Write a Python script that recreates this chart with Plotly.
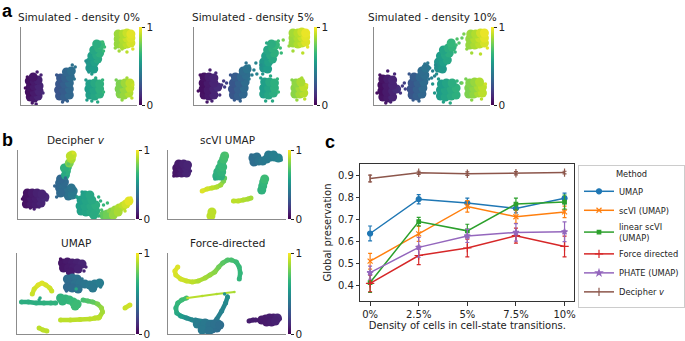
import plotly.graph_objects as go
from plotly.colors import sample_colorscale

FONT = 'DejaVu Sans'
W, H = 685, 341

# ---------------- panel c data ----------------
DENSITY = ['0%', '2.5%', '5%', '7.5%', '10%']
METHODS = ['UMAP', 'scVI (UMAP)', 'linear scVI<br>(UMAP)', 'Force directed', 'PHATE (UMAP)', 'Decipher <i>v</i>']
UMAP_MEAN = [0.637, 0.793, 0.776, 0.751, 0.797]
UMAP_ERR = [0.034, 0.021, 0.022, 0.020, 0.024]
SCVI_MEAN = [0.511, 0.635, 0.760, 0.713, 0.735]
SCVI_ERR = [0.036, 0.034, 0.026, 0.030, 0.026]
LINEAR_MEAN = [0.414, 0.691, 0.649, 0.771, 0.780]
LINEAR_ERR = [0.045, 0.019, 0.030, 0.027, 0.032]
FORCE_MEAN = [0.410, 0.537, 0.571, 0.627, 0.578]
FORCE_ERR = [0.038, 0.042, 0.040, 0.034, 0.047]
PHATE_MEAN = [0.459, 0.574, 0.626, 0.642, 0.645]
PHATE_ERR = [0.030, 0.045, 0.030, 0.040, 0.045]
DECIPHER_MEAN = [0.887, 0.913, 0.909, 0.911, 0.914]
DECIPHER_ERR = [0.015, 0.007, 0.008, 0.007, 0.006]
Y_TICKS = [0.4, 0.5, 0.6, 0.7, 0.8, 0.9]

# ---------------- embedding panels (x, y, colour value) ----------------
A1_BLOB = [(9,8,.05),(13,7,.07),(17,9,.1),(8,13,.04),(13,13,.07),(18,14,.1),(9,18,.05),(13,19,.07),(18,19,.1),(8,24,.04),(13,24,.07),(17,25,.09),(12,28,.06),
           (39,9,.27),(44,8,.3),(49,10,.33),(38,15,.26),(43,15,.29),(49,16,.33),(39,21,.27),(44,21,.3),(49,22,.34),(40,27,.28),(45,27,.31),(50,28,.35),(46,33,.33),(51,34,.36),
           (70,37,.52),(74,36,.55),(70,43,.53),(75,43,.57),(78,46,.6),(72,49,.56),(77,50,.6),(80,52,.63),(74,55,.59),(79,57,.63),(81,60,.66),(77,61,.62),
           (70,10,.56),(75,9,.59),(80,11,.62),(69,16,.55),(74,15,.58),(80,16,.63),(70,21,.56),(75,22,.6),(80,21,.63),
           (99,61,.84),(104,60,.87),(108,61,.9),(112,62,.94),(99,66,.84),(104,66,.88),(108,67,.92),(112,67,.95),(99,71,.85),(104,71,.88),(108,72,.92),(112,71,.96),
           (101,11,.81),(105,10,.84),(110,12,.88),(100,16,.8),(105,16,.84),(111,17,.9),(101,21,.8),(106,22,.85),(111,22,.9)]
A1_DOTS = [(16,33,.08),(11,2,.06),(15,1,.08),(4,17,.03),(22,12,.12),(20,30,.1),(6,28,.04),
           (52,40,.37),(42,3,.29),(47,4,.31),(36,30,.27),(54,26,.38),(55,38,.38),
           (72,31,.54),(69,33,.52),(83,63,.68),(66,44,.5),(84,54,.67),(85,58,.68),
           (72,4,.58),(78,3,.6),(66,25,.54),(83,25,.65),(84,13,.66),(76,27,.6),(67,5,.55),
           (100,54,.86),(108,53,.9),(96,57,.83),(114,56,.95),(103,56,.87),
           (103,5,.83),(113,7,.9),(97,25,.79),(108,27,.86),(114,20,.92)]

A2_BLOB = [(10,10,.05),(15,9,.07),(20,10,.1),(9,16,.04),(14,15,.07),(20,16,.1),(24,18,.12),(9,22,.04),(14,22,.07),(20,22,.1),(10,28,.05),(15,28,.08),(20,27,.1),
           (40,10,.27),(45,9,.3),(50,11,.33),(39,16,.26),(45,16,.3),(51,17,.34),(40,22,.27),(46,22,.31),(52,23,.35),(42,28,.29),(48,28,.33),(53,30,.36),(50,34,.35),(54,36,.38),
           (71,37,.52),(75,36,.55),(71,43,.53),(76,43,.57),(80,46,.6),(73,49,.56),(78,50,.6),(82,52,.63),(75,55,.59),(80,57,.63),(83,60,.66),(79,61,.62),
           (71,11,.56),(76,10,.59),(81,12,.62),(71,17,.55),(76,17,.58),(82,17,.63),(72,23,.56),(77,23,.6),(82,22,.63),
           (101,62,.85),(106,61,.88),(110,62,.91),(114,63,.95),(101,67,.85),(106,67,.88),(110,68,.92),(114,68,.96),(101,72,.86),(106,72,.89),(110,73,.93),(114,72,.97),
           (103,11,.82),(108,11,.86),(112,12,.89),(103,17,.82),(108,17,.86),(112,18,.9),(104,22,.83),(109,23,.87)]
A2_DOTS = [(13,3,.06),(18,4,.09),(6,30,.04),(16,35,.08),(22,32,.11),(4,14,.03),(26,10,.13),
           (28,20,.15),(31,18,.18),(33,22,.2),(30,24,.17),
           (41,5,.28),(47,4,.31),(37,30,.27),(56,26,.38),
           (53,42,.38),(56,39,.4),(61,35,.43),(63,42,.45),(64,31,.45),(59,30,.42),
           (70,31,.52),(68,40,.5),(86,64,.68),(88,57,.68),(89,52,.67),(74,62,.6),
           (73,4,.58),(80,4,.6),(68,27,.54),(85,26,.65),(86,13,.66),(78,29,.6),
           (101,54,.86),(111,52,.9),(91,65,.8),(97,59,.84),(116,58,.96),
           (105,5,.84),(113,6,.9),(100,25,.81),(110,27,.87),(115,20,.93)]

A3_BLOB = [(9,8,.05),(14,7,.07),(19,8,.1),(8,14,.04),(13,13,.07),(19,14,.1),(23,16,.12),(8,20,.04),(13,20,.07),(19,20,.1),(9,26,.05),(14,26,.08),(19,25,.1),
           (39,10,.27),(44,9,.3),(49,11,.33),(38,16,.26),(44,16,.3),(50,17,.34),(39,22,.27),(45,22,.31),(51,23,.35),(41,28,.29),(47,28,.33),(52,30,.36),(49,34,.35),(53,37,.38),
           (66,37,.5),(70,36,.53),(66,43,.52),(71,43,.56),(75,45,.59),(68,49,.55),(73,50,.59),(77,52,.62),(71,55,.58),(76,57,.62),(80,58,.65),(79,62,.66),
           (68,9,.55),(73,8,.58),(79,9,.61),(84,10,.63),(68,15,.55),(73,15,.58),(79,16,.61),(84,17,.64),(69,21,.55),(74,22,.58),(80,22,.62),
           (98,60,.84),(103,60,.87),(108,61,.9),(113,62,.94),(98,66,.84),(103,66,.88),(108,67,.92),(113,67,.96),(99,71,.85),(104,71,.88),(109,72,.93),(113,72,.97),
           (97,11,.8),(102,11,.83),(107,12,.87),(111,12,.9),(97,17,.8),(102,17,.83),(107,18,.87),(111,18,.9),(98,22,.81),(103,23,.84),(108,23,.88)]
A3_DOTS = [(12,2,.06),(17,3,.09),(6,30,.04),(14,34,.08),(21,31,.11),(3,12,.03),
           (26,16,.14),(29,19,.17),(32,16,.2),(27,12,.15),(31,22,.19),
           (40,5,.28),(46,4,.31),(36,31,.27),(56,26,.38),
           (52,41,.38),(55,42,.4),(57,37,.41),(60,34,.43),(62,29,.45),(59,27,.43),
           (64,31,.49),(63,40,.48),(83,53,.66),(84,60,.68),
           (87,62,.72),(90,67,.76),(92,71,.8),(85,66,.72),
           (71,3,.57),(78,2,.6),(66,26,.54),(85,24,.65),(60,21,.52),(62,12,.53),(89,22,.68),
           (100,52,.86),(109,51,.9),(95,56,.83),(116,57,.96),
           (100,5,.82),(110,6,.89),(90,22,.78),(94,26,.79),(114,21,.93)]

B1_BLOB = [(9,15,.05),(14,15,.07),(19,15,.08),(24,16,.1),(9,21,.05),(14,21,.07),(19,21,.08),(24,21,.1),(28,22,.11),(10,26,.05),(15,26,.07),(20,26,.09),(25,25,.1),
           (43,36,.33),(43,31,.33),(47,32,.35),(47,27,.35),(51,27,.37),(52,23,.37),(56,24,.4),(57,28,.4),(55,31,.38),(44,26,.34),(48,37,.34),(44,40,.33),
           (49,44,.6),(50,48,.63),(51,52,.66),(48,51,.63),
           (53,56,.8),(55,60,.87),(56,64,.92),(54,63,.9),
           (65,8,.57),(70,7,.58),(75,7,.6),(80,8,.62),(64,13,.56),(69,13,.58),(75,13,.6),(80,14,.62),(65,19,.56),(70,19,.58),(76,19,.6),(69,24,.57),(74,24,.59),(78,4,.61),
           (88,4,.75),(92,5,.78),(96,7,.82),(100,9,.85),(104,11,.88),(108,13,.9),(111,15,.93),(114,18,.96),(92,2,.78),(98,4,.84),(103,7,.87)]
B1_DOTS = [(13,11,.06),(17,10,.08),(5,20,.04),(30,19,.11),(22,12,.09),
           (60,22,.42),(40,22,.33),(38,33,.32),(49,41,.35),
           (52,55,.75),(57,66,.94),(48,46,.6),
           (61,22,.55),(66,27,.55),(83,22,.63),(85,18,.64),(88,14,.66),(92,16,.68),(83,3,.64),
           (116,21,.97),(86,9,.72),(110,8,.9)]

B2_BLOB = [(9,46,.06),(14,46,.08),(19,46,.1),(9,51,.06),(14,51,.08),(19,51,.1),(11,55,.07),(16,55,.09),(20,54,.1),
           (50,43,.62),(54,43,.63),(51,47,.63),(55,47,.65),(53,51,.65),(56,52,.67),(55,56,.67),(57,60,.69),(58,63,.7),
           (87,61,.36),(91,62,.37),(88,57,.36),(93,58,.38),(97,58,.4),(101,60,.41),(105,62,.42),(109,62,.43),(113,61,.45),(103,64,.41),(108,64,.43),
           (96,29,.64),(97,33,.65),(98,37,.66),(99,40,.68),
           (44,3,.9),(45,7,.9)]
B2_DOTS = [(6,43,.05),(23,48,.1),(48,40,.6),(60,65,.72),(116,59,.46),(85,64,.35),(95,27,.64)]
B2_PATHS = [[(35,28,.95),(40,30,.93),(45,31,.9),(50,32,.88),(54,34,.85),(57,38,.8),(58,41,.75)],
            [(67,18,.9),(72,18,.9),(77,19,.88),(82,20,.87),(85,21,.86)]]

B3_BLOB = [(47,71,.06),(52,72,.07),(57,71,.08),(62,71,.09),(67,70,.1),(48,66,.06),(53,66,.07),(58,66,.08),(63,65,.09),(55,62,.07),
           (52,55,.35),(57,56,.36),(62,55,.37),(55,51,.35),(60,50,.37),(65,51,.38),(52,47,.34),(57,46,.35),(70,50,.39),(75,49,.4),(80,50,.41),(85,51,.42),(78,46,.4),(63,45,.37),
           (45,36,.64),(50,35,.65),(54,34,.66),(58,32,.67),(62,30,.68),(47,33,.65),(60,28,.68)]
B3_DOTS = [(69,63,.1),(71,67,.1),(45,75,.05),(51,43,.34),(86,47,.42),(67,55,.38),(61,45,.6),(23,34,.6),(24,36,.6)]
B3_PATHS = [[(16,40,.92),(18,45,.93),(22,49,.95),(26,51,.95),(30,49,.94),(34,46,.93),(36,43,.92)],
            [(5,32,.62),(12,32,.62),(20,31,.62),(28,31,.63),(35,31,.64),(40,31,.64)],
            [(68,34,.7),(73,33,.72),(78,32,.75),(83,30,.8),(87,26,.84),(88,22,.86),(85,17,.88),(80,16,.9)],
            [(45,14,.9),(55,14,.9),(65,14.5,.9),(75,15,.9),(84,16,.9)],
            [(111,26,.92),(116,29,.93)],
            [(23,6,.9),(27,4,.9),(31,3,.9)]]

B4_BLOB = [(30,10,.42),(35,8,.4),(40,6,.38),(45,5,.36),(50,6,.36),(38,11,.4),(43,9,.38),(48,10,.37),(53,9,.36),(35,4,.4),(42,3,.38),
           (96,14,.07),(100,15,.07),(104,16,.08),(108,16,.08),(112,16,.1),(101,12,.07),(106,12,.08),(110,13,.09)]
B4_DOTS = [(61,38,.5),(58,40,.52),(115,15,.1),(93,13,.07)]
B4_PATHS = [[(10,67,.95),(7,63,.95),(8,59,.94),(13,55,.93),(19,53,.92),(25,52,.9),(31,53,.88),(38,56,.86),(43,59,.84),(48,62,.82),(52,67,.78),(56,71,.74),(61,74,.72),(65,74,.7),(70,72,.68),(73,67,.67),(74,61,.66),(73,55,.65)],
            [(19,36,.7),(14,34,.68),(10,31,.66),(8,26,.64),(9,21,.6),(13,18,.55),(19,16,.5),(25,14,.46),(30,12,.43)],
            [(45,8,.4),(50,15,.42),(55,23,.45),(59,31,.47),(61,37,.5)],
            [(28,14,.45),(40,12,.42),(52,12,.4)],
            [(83,13,.08),(87,14,.08),(90,14,.08)]]
B4_THIN = [[(20,36,.9),(35,38,.89),(50,40,.88),(68,42,.87)]]

# ---------------- layout (pixel boxes) ----------------
EMBED = [
    # title, (x0, x1, y0, y1), colorbar x0, blob, dots, paths, thin paths
    ('Simulated - density 0%', (22, 140, 27, 105), 142, A1_BLOB, A1_DOTS, [], []),
    ('Simulated - density 5%', (199, 320, 27, 105), 322, A2_BLOB, A2_DOTS, [], []),
    ('Simulated - density 10%', (383, 502, 27, 105), 503, A3_BLOB, A3_DOTS, [], []),
    ('Decipher <i>v</i>', (18, 138, 150, 219), 139, B1_BLOB, B1_DOTS, [], []),
    ('scVI UMAP', (172, 293, 150, 219), 295, B2_BLOB, B2_DOTS, B2_PATHS, []),
    ('UMAP', (17, 138, 253, 334), 139, B3_BLOB, B3_DOTS, B3_PATHS, []),
    ('Force-directed', (172, 293, 253, 334), 295, B4_BLOB, B4_DOTS, B4_PATHS, B4_THIN),
]
SPINE = '#8c8c8c'
TXT = '#222222'

fig = go.Figure()
lay = {}
annotations = []

for i, (title, box, cbx, blob, dots, paths, thin) in enumerate(EMBED):
    n = i + 1
    sfx = '' if n == 1 else str(n)
    xa, ya, ca = 'x' + sfx, 'y' + sfx, 'coloraxis' + sfx
    x0, x1, y0, y1 = box
    lay['xaxis' + sfx] = dict(domain=[x0 / W, x1 / W], range=[0, x1 - x0], anchor=ya,
                              showline=True, linecolor=SPINE, linewidth=1.3, showgrid=False,
                              zeroline=False, showticklabels=False, ticks='', automargin=False)
    lay['yaxis' + sfx] = dict(domain=[1 - y1 / H, 1 - y0 / H], range=[0, y1 - y0], anchor=xa,
                              showline=True, linecolor=SPINE, linewidth=1.3, showgrid=False,
                              zeroline=False, showticklabels=False, ticks='', automargin=False)
    lay[ca] = dict(colorscale='Viridis', cmin=0, cmax=1,
                   colorbar=dict(x=cbx / W, xanchor='left', y=1 - (y0 + y1) / 2 / H, yanchor='middle',
                                 len=(y1 - y0) / H, lenmode='fraction', thickness=3, thicknessmode='pixels',
                                 outlinewidth=0, tickvals=[0, 1], ticktext=['0', '1'], ticks='outside',
                                 ticklen=3, tickwidth=1, tickcolor=TXT, xpad=0, ypad=0,
                                 tickfont=dict(family=FONT, size=10.5, color=TXT)))
    annotations.append(dict(text=title, x=(x0 + x1) / 2 / W, y=1 - (y0 - 10) / H, xref='paper', yref='paper',
                            xanchor='center', yanchor='middle', showarrow=False,
                            font=dict(family=FONT, size=10.5, color=TXT)))
    for group, width in [(paths, 4.5), (thin, 2.2)]:
        for path in group:
            for (xa_, ya_, c1), (xb, yb, c2) in zip(path[:-1], path[1:]):
                col = sample_colorscale('Viridis', [(c1 + c2) / 2])[0]
                fig.add_trace(go.Scatter(x=[xa_, xb], y=[ya_, yb], mode='lines', xaxis=xa, yaxis=ya,
                                         line=dict(color=col, width=width), showlegend=False, hoverinfo='skip'))
            fig.add_trace(go.Scatter(x=[p[0] for p in path], y=[p[1] for p in path], mode='markers',
                                     xaxis=xa, yaxis=ya, showlegend=False, hoverinfo='skip',
                                     marker=dict(size=width + 0.5, color=[p[2] for p in path], coloraxis=ca, line=dict(width=0))))
    fig.add_trace(go.Scatter(x=[p[0] for p in blob], y=[p[1] for p in blob], mode='markers',
                             xaxis=xa, yaxis=ya, showlegend=False, hoverinfo='skip',
                             marker=dict(size=9, color=[p[2] for p in blob], coloraxis=ca, line=dict(width=0))))
    fig.add_trace(go.Scatter(x=[p[0] for p in dots], y=[p[1] for p in dots], mode='markers',
                             xaxis=xa, yaxis=ya, showlegend=False, hoverinfo='skip',
                             marker=dict(size=3.5, color=[p[2] for p in dots], coloraxis=ca, line=dict(width=0))))

# ---------------- panel c ----------------
C_BOX = (369, 588, 164, 301)
SERIES = [
    (METHODS[0], UMAP_MEAN, UMAP_ERR, '#1f77b4', 'circle', 5),
    (METHODS[1], SCVI_MEAN, SCVI_ERR, '#ff7f0e', 'x-thin', 5),
    (METHODS[2], LINEAR_MEAN, LINEAR_ERR, '#2ca02c', 'square', 3.5),
    (METHODS[3], FORCE_MEAN, FORCE_ERR, '#d62728', 'cross-thin', 6),
    (METHODS[4], PHATE_MEAN, PHATE_ERR, '#9467bd', 'star', 4.5),
    (METHODS[5], DECIPHER_MEAN, DECIPHER_ERR, '#8c564b', 'line-ns', 6),
]
for name, mean, err, col, sym, size in SERIES:
    fig.add_trace(go.Scatter(x=DENSITY, y=mean, name=name, mode='lines+markers', xaxis='x8', yaxis='y8',
                             line=dict(color=col, width=1.5),
                             marker=dict(symbol=sym, size=size, color=col, line=dict(color=col, width=1.2)),
                             error_y=dict(type='data', array=err, color=col, thickness=1.2, width=2)))

x0, x1, y0, y1 = C_BOX
lay['xaxis8'] = dict(domain=[x0 / W, x1 / W], anchor='y8', type='category', range=[-0.2, 4.2],
                     showline=True, mirror=True, linecolor='#333', linewidth=1, ticks='outside', ticklen=3.5,
                     tickcolor='#333', showgrid=False, zeroline=False, automargin=False,
                     tickfont=dict(family=FONT, size=10, color=TXT),
                     title=dict(text='Density of cells in cell-state transitions.', standoff=3,
                                font=dict(family=FONT, size=10, color=TXT)))
lay['yaxis8'] = dict(domain=[1 - y1 / H, 1 - y0 / H], anchor='x8', range=[0.330, 0.953], tickvals=Y_TICKS,
                     ticktext=[f'{v:.1f}' for v in Y_TICKS],
                     showline=True, mirror=True, linecolor='#333', linewidth=1, ticks='outside', ticklen=3.5,
                     tickcolor='#333', showgrid=False, zeroline=False, automargin=False,
                     tickfont=dict(family=FONT, size=10, color=TXT),
                     title=dict(text='Global preservation', standoff=4,
                                font=dict(family=FONT, size=10, color=TXT)))

for letter, px, py in [('a', 8, 11), ('b', 8, 140), ('c', 338, 142)]:
    annotations.append(dict(text=f'<b>{letter}</b>', x=px / W, y=1 - py / H, xref='paper', yref='paper',
                            xanchor='center', yanchor='middle', showarrow=False,
                            font=dict(family='Liberation Sans', size=18, color='#000')))

fig.update_layout(
    width=W, height=H, autosize=False, margin=dict(l=0, r=0, t=0, b=0),
    paper_bgcolor='white', plot_bgcolor='white', annotations=annotations,
    legend=dict(x=592 / W, y=1 - 165 / H, xanchor='left', yanchor='top', bordercolor='#cccccc', borderwidth=1,
                bgcolor='white', font=dict(family=FONT, size=8.3, color=TXT), tracegroupgap=0,
                title=dict(text='Method', side='top center', font=dict(family=FONT, size=8.3, color=TXT))),
    **lay,
)
fig.write_html('out.html')
